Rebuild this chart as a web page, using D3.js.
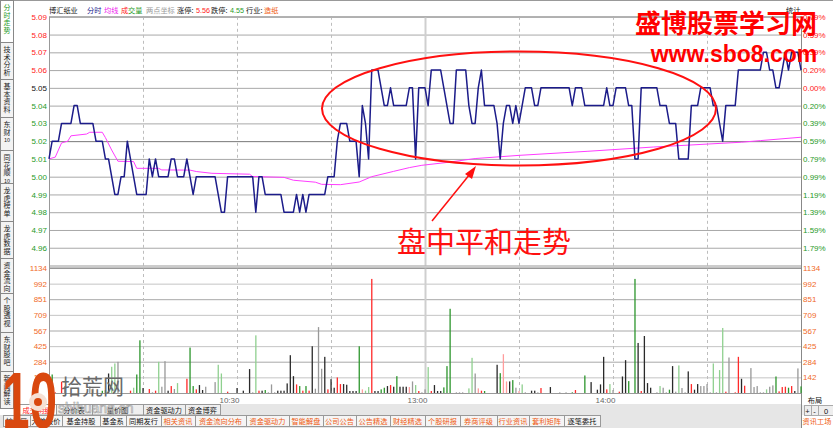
<!DOCTYPE html>
<html><head><meta charset="utf-8">
<script src="https://cdn.jsdelivr.net/npm/d3@7"></script>
<style>
body{margin:0;background:#fff;overflow:hidden}
svg{display:block}
text{font-family:"Liberation Sans",Arial,sans-serif}
.cjk{font-family:"Noto Sans CJK SC","Noto Sans",sans-serif}
</style>
</head><body>
<svg id="c" width="833" height="428"></svg>
<script>
// ---------------- data ----------------
const stockName = "博汇纸业";
const prevClose = 5.05;
const priceTicks = [5.09,5.08,5.07,5.06,5.05,5.04,5.03,5.02,5.01,5.00,4.99,4.98,4.97,4.96];
const pctLabels = ["0.79%","0.59%","0.39%","0.20%","0.00%","0.20%","0.39%","0.59%","0.79%","0.99%","1.19%","1.39%","1.59%","1.79%"];
const volTicks = [1134,992,851,709,567,425,284,142];
const timeTicks = [60,120,180];
const timeLabels = ["10:30","13:00","14:00"];

// minute prices 09:30 .. 15:00 (241 points)
const prices = [
5.01,5.02,5.02,5.02,5.03,5.03,5.03,5.03,5.04,5.04,
5.03,5.03,5.03,5.03,5.03,5.02,5.02,5.02,5.01,5.01,
5.00,4.99,4.99,5.00,5.00,5.02,5.01,5.00,4.99,4.99,
4.99,4.99,5.01,5.00,5.01,5.00,5.00,5.00,5.00,5.01,
5.01,5.00,5.00,5.00,5.01,5.00,4.99,5.00,5.00,5.00,
5.00,5.00,5.00,5.00,4.99,4.98,4.98,5.00,5.00,5.00,
5.00,5.00,5.00,5.00,5.00,5.00,4.98,5.00,5.00,4.99,
4.99,4.99,4.99,4.99,4.99,4.98,4.98,4.98,4.98,4.99,
4.98,4.99,4.98,4.99,4.99,4.99,4.99,4.99,4.99,5.00,
5.00,5.00,5.02,5.03,5.03,5.03,5.02,5.02,5.02,5.00,
5.04,5.03,5.01,5.06,5.06,5.06,5.05,5.04,5.04,5.05,
5.04,5.04,5.04,5.04,5.04,5.05,5.05,5.01,5.05,5.05,
5.05,5.04,5.06,5.06,5.06,5.06,5.05,5.04,5.03,5.03,
5.06,5.06,5.06,5.06,5.04,5.03,5.03,5.05,5.06,5.04,
5.04,5.04,5.04,5.03,5.01,5.03,5.04,5.04,5.03,5.04,
5.03,5.04,5.05,5.05,5.05,5.04,5.04,5.05,5.05,5.05,
5.05,5.05,5.05,5.05,5.05,5.05,5.05,5.04,5.05,5.05,
5.05,5.04,5.04,5.04,5.04,5.04,5.04,5.04,5.05,5.04,
5.04,5.05,5.05,5.05,5.05,5.04,5.04,5.01,5.01,5.05,
5.05,5.05,5.05,5.05,5.05,5.04,5.04,5.04,5.03,5.03,
5.03,5.01,5.01,5.01,5.01,5.04,5.04,5.04,5.05,5.05,
5.05,5.05,5.04,5.04,5.03,5.02,5.04,5.04,5.04,5.04,
5.06,5.06,5.06,5.06,5.06,5.06,5.06,5.06,5.07,5.07,
5.06,5.06,5.05,5.05,5.06,5.07,5.06,5.07,5.07,5.07,5.06
];

// average price line, read at these minutes
const avgMinutes = [0,2,3,4,6,7,12,13,17,18,20,22,27,28,35,36,45,47,52,64,65,75,78,85,87,93,99,103,110,115,119,127,136,150,172,193,221,227,240];
const avgValues  = [5.010,5.011,5.015,5.019,5.020,5.023,5.024,5.025,5.025,5.022,5.015,5.0087,5.0085,5.0047,5.0047,5.0038,5.0037,5.0029,5.0019,5.0014,5.0001,4.9996,4.998,4.9969,4.9957,4.9955,4.997,5.000,5.003,5.0051,5.0064,5.008,5.0102,5.012,5.0143,5.0167,5.0194,5.0203,5.0222];

// minute volumes
const volumes = [
0,168,6,0,102,63,0,0,0,0,
0,0,0,60,40,0,0,20,27,177,
238,268,283,0,0,0,21,48,168,478,
45,0,36,6,21,283,57,289,21,63,
36,90,0,0,129,412,63,33,72,27,
57,0,0,99,256,177,0,12,0,0,
45,0,21,0,217,6,523,21,21,27,
6,78,6,21,21,21,87,343,153,78,
63,21,63,21,424,39,598,220,328,33,
126,48,141,81,81,75,18,18,18,424,
33,21,54,1035,18,18,33,48,63,72,
57,153,57,57,57,54,105,72,18,6,
33,235,18,72,18,18,51,244,764,0,
6,6,6,0,42,319,177,42,21,18,
0,0,0,256,180,352,105,105,117,48,
18,78,6,0,21,21,6,45,0,0,
54,0,0,6,0,6,0,6,27,0,
0,159,0,99,0,30,78,328,33,81,
27,0,12,150,298,108,0,1035,454,18,
517,90,48,0,6,63,48,6,30,244,
12,250,45,6,196,81,30,81,63,63,
81,6,268,6,208,590,12,322,0,6,
328,129,66,0,226,54,63,6,6,33,
57,69,150,15,54,57,48,63,18,223,60
];
// bar kind: U up, u up(light), D down, d down(light), K flat dark, f flat light, - none
const volumeSides = [
"-","D","U","-","U","f","-","-","-","-",
"-","-","-","f","f","-","-","D","D","K",
"d","d","f","-","-","-","U","d","D","D",
"K","-","U","f","U","d","f","f","K","U",
"f","d","-","-","U","D","D","U","K","K",
"f","-","-","f","d","d","-","U","-","-",
"K","-","K","-","K","f","d","U","K","D",
"f","f","f","K","K","K","K","K","K","U",
"D","U","D","U","K","f","f","f","K","U",
"K","K","U","U","K","K","K","K","K","D",
"u","d","d","U","K","K","D","D","K","U",
"K","D","K","K","K","u","f","d","U","f",
"f","d","U","K","K","K","D","D","D","-",
"f","f","f","-","d","d","f","u","U","D",
"-","-","-","K","D","u","u","K","D","f",
"u","d","f","-","K","K","f","U","-","-",
"K","-","-","f","-","f","-","D","U","-",
"-","D","-","K","-","K","K","K","U","d",
"f","-","U","K","K","D","-","D","K","U",
"K","K","K","-","f","d","f","f","D","K",
"f","d","f","f","K","U","K","K","f","f",
"f","f","d","f","d","d","U","f","-","U",
"U","K","U","-","f","f","f","f","f","d",
"f","f","D","U","U","U","D","U","K","f","D"
];

const sideTabs = ["分时走势","技术分析","基本资料","东财10","同花顺10","龙虎榜单","龙虎数据","资金流向","个股透视","东财股吧","新闻解读"];
const bottomTabs1 = ["成交明细","分价表","量价图","资金驱动力","资金博弈"];
const bottomTabs2 = ["扩展区","大单报价","基金持股","基金系","同期发行","相关资讯","资金流向分布","资金驱动力","智能解盘","公司公告","公告精选","财经精选","个股研报","券商评级","行业资讯","套利矩阵","逐笔委托"];
const annotation = "盘中平和走势";

// ---------------- drawing ----------------
const svg = d3.select("#c");
const L = 49, R = 801, PT = 16.8, PB = 265.5, VT = 268, VB = 393;
const x = d3.scaleLinear().domain([0,240]).range([L,R]);
const yP = d3.scaleLinear().domain([4.95,5.09]).range([PB,PT]);
const yV = d3.scaleLinear().domain([0,1134]).range([VB,VT]);

svg.append("rect").attr("width",833).attr("height",428).attr("fill","#fff");
svg.append("line").attr("x1",0).attr("x2",833).attr("y1",0.5).attr("y2",0.5).attr("stroke","#999");

// price grid
const gP = svg.append("g").attr("transform",`translate(${L},0)`)
  .call(d3.axisLeft(yP).tickValues(priceTicks).tickSize(-(R-L)).tickFormat(""));
gP.select(".domain").remove();
gP.selectAll("line").attr("stroke",d=>Math.abs(d-5.02)<1e-6?"#777":"#a8a8a8");
// volume grid
const gV = svg.append("g").attr("transform",`translate(${L},0)`)
  .call(d3.axisLeft(yV).tickValues(volTicks).tickSize(-(R-L)).tickFormat(""));
gV.select(".domain").remove();
gV.selectAll("line").attr("stroke",(d,i)=>(i%2===1)?"#c4c4c4":"#a8a8a8");

// vertical grid
const vMin = [30,60,90,150,180,210];
[[PT,PB],[VT,VB]].forEach(([a,b])=>{
  svg.append("g").selectAll("line").data(vMin).join("line")
    .attr("x1",d=>x(d)+0.5).attr("x2",d=>x(d)+0.5).attr("y1",a).attr("y2",b)
    .attr("stroke","#bdbdbd").attr("stroke-dasharray","3,3");
  svg.append("line").attr("x1",x(120)+0.5).attr("x2",x(120)+0.5).attr("y1",a).attr("y2",b)
    .attr("stroke","#cfcfcf").attr("stroke-width",2);
});
// frames
svg.append("line").attr("x1",L).attr("x2",R).attr("y1",PT).attr("y2",PT).attr("stroke","#999");
svg.append("line").attr("x1",L).attr("x2",R).attr("y1",PB+0.5).attr("y2",PB+0.5).attr("stroke","#999");
svg.append("line").attr("x1",L).attr("x2",R).attr("y1",VT).attr("y2",VT).attr("stroke","#888").attr("stroke-width",1.2);
svg.append("line").attr("x1",L).attr("x2",R).attr("y1",VB+0.5).attr("y2",VB+0.5).attr("stroke","#999");
svg.append("line").attr("x1",L+0.5).attr("x2",L+0.5).attr("y1",PT).attr("y2",VB).attr("stroke","#999");
svg.append("line").attr("x1",R+0.5).attr("x2",R+0.5).attr("y1",PT).attr("y2",428).attr("stroke","#888");

// volume bars
const volColor = {U:"#ff2a2a",u:"#ff9c9c",D:"#2d962d",d:"#8fd08f",K:"#2a2a2a",f:"#999999"};
svg.append("g").selectAll("rect").data(volumes.map((v,i)=>({v,i,s:volumeSides[i]})).filter(d=>d.v>0&&d.s!=="-"))
  .join("rect")
  .attr("x",d=>x(d.i)-0.6).attr("width",1.3)
  .attr("y",d=>yV(d.v)).attr("height",d=>yV(0)-yV(d.v))
  .attr("fill",d=>volColor[d.s]);

// avg line
svg.append("path").datum(avgMinutes.map((m,i)=>[m,avgValues[i]]))
  .attr("d",d3.line().x(d=>x(d[0])).y(d=>yP(d[1])))
  .attr("fill","none").attr("stroke","#ff3cff").attr("stroke-width",1);
// price line
svg.append("path").datum(prices)
  .attr("d",d3.line().x((d,i)=>x(i)).y(d=>yP(d)))
  .attr("fill","none").attr("stroke","#1c1c8a").attr("stroke-width",1.5).attr("stroke-linejoin","round");

// axis labels
const fmt = d3.format(".2f");
const pColor = d=>d>prevClose+1e-6?"#ff2020":(d<prevClose-1e-6?"#1f9a1f":"#111");
const aL = svg.append("g").attr("transform",`translate(47,0)`)
  .call(d3.axisLeft(yP).tickValues(priceTicks).tickSize(0).tickPadding(0).tickFormat(fmt));
aL.select(".domain").remove();
aL.selectAll("text").attr("fill",pColor).style("font-size","8px");
const aR = svg.append("g").attr("transform",`translate(${R+2},0)`)
  .call(d3.axisRight(yP).tickValues(priceTicks).tickSize(0).tickPadding(0).tickFormat((d,i)=>pctLabels[i]));
aR.select(".domain").remove();
aR.selectAll("text").attr("fill",d=>d>=prevClose-1e-6?"#ff2020":"#1f9a1f").style("font-size","8px");
const vL = svg.append("g").attr("transform",`translate(47,0)`)
  .call(d3.axisLeft(yV).tickValues(volTicks).tickSize(0).tickPadding(0).tickFormat(d3.format("d")));
vL.select(".domain").remove();
vL.selectAll("text").attr("fill","#f06a28").style("font-size","8px");
const vR = svg.append("g").attr("transform",`translate(${R+2},0)`)
  .call(d3.axisRight(yV).tickValues(volTicks).tickSize(0).tickPadding(0).tickFormat(d3.format("d")));
vR.select(".domain").remove();
vR.selectAll("text").attr("fill","#f06a28").style("font-size","8px");
// time axis
const tA = svg.append("g").attr("transform",`translate(0,${VB})`)
  .call(d3.axisBottom(x).tickValues(timeTicks).tickSize(0).tickPadding(4).tickFormat((d,i)=>timeLabels[i]));
tA.select(".domain").remove();
tA.selectAll("text").attr("fill","#666").style("font-size","8px").attr("text-anchor","end").attr("dx","2");

// header
const hdr = [
 [49,stockName,"#111"],[87,"分时","#22228c"],[104,"均线","#ee22ee"],[121,"成","#ff2020"],[128,"交量","#1f9a1f"],
 [146,"两点坐标","#999"],[177,"涨停:","#111"],[196,"5.56","#ff2020"],[211,"跌停:","#111"],[230,"4.55","#1f9a1f"],
 [246,"行业:","#111"],[264,"造纸","#f05a10"]];
svg.append("g").selectAll("text").data(hdr).join("text")
  .attr("class",d=>/[0-9]/.test(d[1])?"":"cjk")
  .attr("x",d=>d[0]).attr("y",13).attr("fill",d=>d[2]).style("font-size","7.2px").text(d=>d[1]);
svg.append("text").attr("class","cjk").attr("x",786).attr("y",13).style("font-size","7.2px").attr("fill","#111").text("统计");

// left side tabs
const tabY = [0,42,79,117,150,183,221,258,293,332,371,408];
const sb = svg.append("g");
sideTabs.forEach((t,i)=>{
  const y0 = tabY[i], y1 = tabY[i+1];
  sb.append("rect").attr("x",0.5).attr("y",y0+0.5).attr("width",13).attr("height",y1-y0)
    .attr("fill",i===0?"#fff":"#f3f3f3").attr("stroke","#888");
  const chars = t.match(/[0-9]+|./g);
  chars.forEach((c,j)=>{
    sb.append("text").attr("class","cjk").attr("x",7).attr("y",y0+10+j*7.6)
      .attr("text-anchor","middle").style("font-size",/[0-9]/.test(c)?"5.5px":"7px")
      .attr("fill",i===0?"#1f9a1f":"#222").text(c);
  });
});

// bottom row 1
svg.append("rect").attr("x",14).attr("y",404).attr("width",R-14).attr("height",11).attr("fill","#e6e6e6");
const b1x = [18,56,92,143,185,220];
bottomTabs1.forEach((t,i)=>{
  svg.append("rect").attr("x",b1x[i]+0.5).attr("y",404.5).attr("width",b1x[i+1]-b1x[i]).attr("height",10.5)
    .attr("fill",i===0?"#fff":"#efefef").attr("stroke","#999");
  svg.append("text").attr("class","cjk").attr("x",(b1x[i]+b1x[i+1])/2).attr("y",412.5).attr("text-anchor","middle")
    .style("font-size","7.2px").attr("fill",i===0?"#ff2020":"#111").text(t);
});
// bottom row 2
svg.append("rect").attr("x",0).attr("y",415).attr("width",R).attr("height",13).attr("fill","#e6e6e6");
const b2x = [3,30,62,100,126,161,195,246,289,323,356,390,425,460,497,529,564,600];
bottomTabs2.forEach((t,i)=>{
  svg.append("rect").attr("x",b2x[i]+0.5).attr("y",415.5).attr("width",b2x[i+1]-b2x[i]).attr("height",11)
    .attr("fill","#f5f5f5").attr("stroke","#999");
  const orange = i>=5 && i<=15;
  svg.append("text").attr("class","cjk").attr("x",(b2x[i]+b2x[i+1])/2).attr("y",424).attr("text-anchor","middle")
    .style("font-size","7.2px").attr("fill",orange?"#f05a10":"#111").text(t);
});
// right bottom box
svg.append("rect").attr("x",R+1).attr("y",394).attr("width",32).attr("height",34).attr("fill","#fff");
svg.append("text").attr("class","cjk").attr("x",815).attr("y",403).attr("text-anchor","middle").style("font-size","7.2px").attr("fill","#111").text("布局");
svg.append("rect").attr("x",R+1).attr("y",405).attr("width",32).attr("height",10).attr("fill","#eee");
[["+",807.5],["-",814.5],["0",826]].forEach(([s,xx])=>{
  svg.append("text").attr("x",xx).attr("y",413.5).attr("text-anchor","middle").style("font-size","7.5px").attr("fill","#111").text(s);
});
[[804,811],[811,818],[818,833]].forEach(([a,b])=>svg.append("rect").attr("x",a+0.5).attr("y",405.5).attr("width",b-a).attr("height",10).attr("fill","none").attr("stroke","#aaa"));
svg.append("text").attr("class","cjk").attr("x",817).attr("y",424).attr("text-anchor","middle").style("font-size","7.2px").attr("fill","#f05a10").text("资讯工场");

// annotation
svg.append("ellipse").attr("cx",519).attr("cy",108.5).attr("rx",197).attr("ry",57)
  .attr("fill","none").attr("stroke","#ff1010").attr("stroke-width",2);
svg.append("line").attr("x1",432).attr("y1",221).attr("x2",470).attr("y2",174).attr("stroke","#ff1010").attr("stroke-width",1.5);
svg.append("path").attr("d","M476,166 L465,174 L472,179 Z").attr("fill","#ff1010");
svg.append("text").attr("class","cjk").attr("x",484).attr("y",253).attr("text-anchor","middle")
  .style("font-size","29px").attr("fill","#ff1010").text(annotation);

// watermarks
svg.append("text").attr("class","cjk").attr("x",726).attr("y",33).attr("text-anchor","middle")
  .style("font-size","26px").style("font-weight","bold").attr("fill","#ff0000").text("盛博股票学习网");
svg.append("text").attr("x",734).attr("y",62).attr("text-anchor","middle")
  .style("font-size","23px").style("font-weight","bold").attr("fill","#ff0000").text("www.sbo8.com");

const logo = svg.append("g").attr("transform","translate(2,428) scale(0.62,1)");
logo.append("text").attr("x",0).attr("y",0).style("font-size","80px").style("font-weight","bold")
  .attr("fill","#d9480f").text("10");
svg.append("circle").attr("cx",38).attr("cy",402).attr("r",9).attr("fill","#f6e0d4");
svg.append("circle").attr("cx",38).attr("cy",402).attr("r",4).attr("fill","#d9480f");
svg.append("text").attr("class","cjk").attr("x",61).attr("y",394).style("font-size","21px").attr("fill","#6a6a6a").text("拾荒网");
svg.append("text").attr("x",58).attr("y",413).style("font-size","14px").attr("fill","none").attr("stroke","#a0a0a0").attr("stroke-width",0.6).text("shihuang.cn");
</script>
</body></html>
